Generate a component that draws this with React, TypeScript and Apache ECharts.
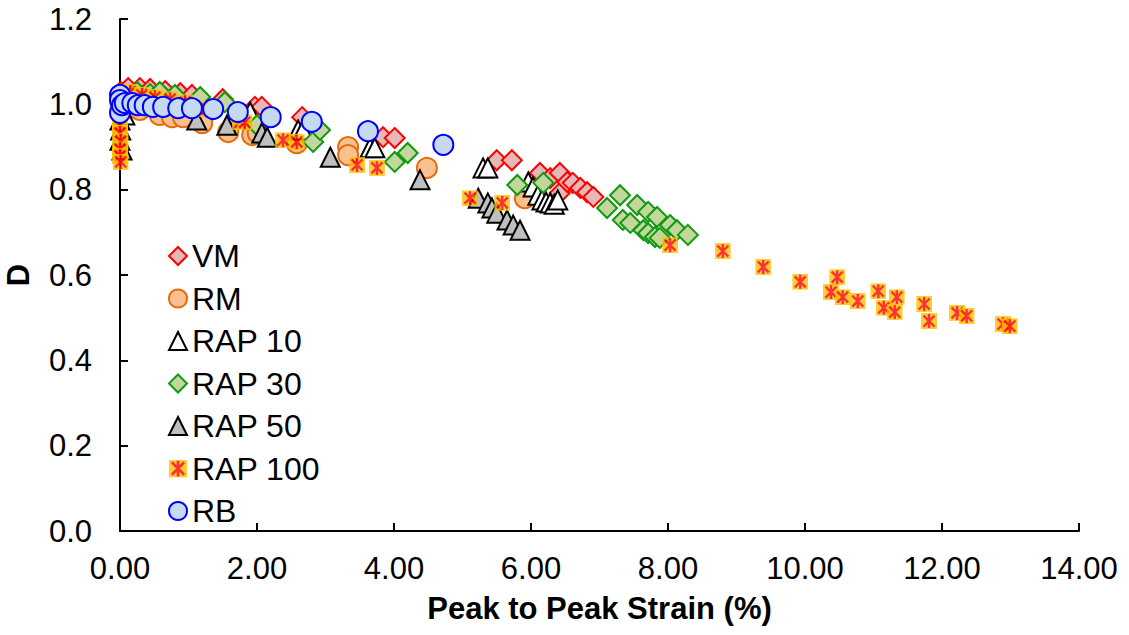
import React, { useEffect, useRef } from "react";
import * as echarts from "echarts";

const xTicks = ["0.00", "2.00", "4.00", "6.00", "8.00", "10.00", "12.00", "14.00"];
const yTicks = ["0.0", "0.2", "0.4", "0.6", "0.8", "1.0", "1.2"];

const VM: number[][] = [
  [0.01, 1.029], [0.12, 1.038], [0.29, 1.038], [0.44, 1.036], [0.66, 1.031], [0.88, 1.026],
  [1.05, 1.022], [1.5, 1.012], [1.97, 0.994], [2.07, 0.994], [2.66, 0.97], [3.84, 0.923],
  [4.01, 0.921], [5.5, 0.869], [5.72, 0.869], [6.13, 0.839], [6.28, 0.827], [6.42, 0.839],
  [6.42, 0.792], [6.53, 0.818], [6.61, 0.816], [6.72, 0.804], [6.82, 0.794], [6.91, 0.783],
];
const RM: number[][] = [
  [0.01, 0.994], [0.09, 1.0], [0.29, 0.987], [0.58, 0.975], [0.76, 0.97], [0.92, 0.97],
  [1.2, 0.956], [1.58, 0.935], [1.93, 0.928], [2.01, 0.933], [2.58, 0.909], [3.33, 0.9],
  [3.33, 0.881], [4.48, 0.851], [5.91, 0.78],
];
const RAP10: number[][] = [
  [0.0, 0.963], [0.01, 0.94], [0.07, 0.975], [1.9, 0.982], [2.6, 0.94], [2.67, 0.94],
  [3.65, 0.898], [3.72, 0.898], [5.3, 0.851], [5.37, 0.851], [5.96, 0.818], [6.03, 0.806],
  [6.1, 0.787], [6.16, 0.776], [6.22, 0.771], [6.28, 0.769], [6.34, 0.766], [6.39, 0.776],
];
const RAP30: number[][] = [
  [0.03, 1.01], [0.25, 1.029], [0.44, 1.024], [0.58, 1.029], [0.8, 1.022], [1.17, 1.017],
  [1.53, 1.005], [2.0, 0.951], [2.82, 0.912], [2.92, 0.94], [4.01, 0.865], [4.2, 0.886],
  [5.8, 0.811], [6.18, 0.816], [7.11, 0.757], [7.3, 0.787], [7.55, 0.764], [7.34, 0.729],
  [7.45, 0.722], [7.71, 0.748], [7.84, 0.736], [7.64, 0.705], [7.71, 0.698], [7.81, 0.689],
  [7.88, 0.687], [8.03, 0.717], [8.13, 0.705], [8.29, 0.694],
];
const RAP50: number[][] = [
  [0.0, 0.916], [0.03, 0.893], [1.12, 0.963], [1.56, 0.951], [2.07, 0.933], [2.15, 0.923],
  [3.07, 0.876], [4.38, 0.823], [5.23, 0.78], [5.37, 0.769], [5.43, 0.757], [5.5, 0.745],
  [5.65, 0.729], [5.74, 0.717], [5.84, 0.705],
];
const RAP100: number[][] = [
  [0.0, 0.968], [0.0, 0.951], [0.0, 0.933], [0.01, 0.914], [0.0, 0.895], [0.0, 0.879],
  [0.01, 0.865], [0.03, 1.024], [0.15, 1.029], [0.32, 1.022], [0.51, 1.017], [0.73, 1.012],
  [0.95, 1.005], [1.27, 0.989], [1.75, 0.958], [1.82, 0.958], [2.38, 0.916], [2.58, 0.912],
  [3.46, 0.858], [3.75, 0.851], [5.11, 0.78], [5.58, 0.769], [8.03, 0.67], [8.8, 0.656],
  [9.39, 0.619], [9.93, 0.584], [10.47, 0.595], [10.38, 0.56], [10.55, 0.548], [10.77, 0.539],
  [11.07, 0.562], [11.34, 0.548], [11.15, 0.523], [11.31, 0.513], [11.74, 0.532], [11.81, 0.492],
  [12.22, 0.511], [12.36, 0.504], [12.89, 0.485], [12.99, 0.48],
];
const RB: number[][] = [
  [0.0, 1.022], [0.0, 1.01], [0.0, 0.98], [0.03, 0.998], [0.07, 1.003], [0.18, 1.003],
  [0.26, 0.998], [0.36, 0.998], [0.48, 0.994], [0.63, 0.994], [0.85, 0.991], [1.05, 0.991],
  [1.36, 0.989], [1.72, 0.982], [2.2, 0.97], [2.8, 0.959], [3.62, 0.937], [4.72, 0.905],
];

const FONT = '"Liberation Sans", Arial, sans-serif';

const asteriskSvg =
  "<svg xmlns='http://www.w3.org/2000/svg' width='16' height='16' viewBox='0 0 16 16'>" +
  "<rect x='0' y='0' width='16' height='16' fill='#FFC000'/>" +
  "<path d='M8 1V15M2.5 2.5L13.5 13.5M13.5 2.5L2.5 13.5' stroke='#FF0000' stroke-width='2.4' fill='none'/>" +
  "</svg>";
const asteriskSymbol = "image://data:image/svg+xml;charset=utf-8," + encodeURIComponent(asteriskSvg);

export default function App() {
  const ref = useRef<HTMLDivElement>(null);
  useEffect(() => {
    if (!ref.current) return;
    const chart = echarts.init(ref.current, null, { renderer: "svg" });
    const mk = (name: string, data: number[][], symbol: string, size: number, fill: string, stroke: string, bw = 1.5) => ({
      name,
      type: "scatter",
      data,
      symbol,
      symbolSize: size,
      itemStyle: { color: fill, borderColor: stroke, borderWidth: bw, opacity: 1 },
      emphasis: { disabled: true },
    });
    chart.setOption({
      animation: false,
      backgroundColor: "#ffffff",
      textStyle: { fontFamily: FONT },
      grid: { left: 120, right: 50, top: 19, bottom: 104, containLabel: false, outerBoundsMode: "none" },
      legend: {
        orient: "vertical",
        left: 163,
        top: 235,
        itemGap: 10.5,
        itemWidth: 18,
        itemHeight: 18,
        textStyle: { fontSize: 32, color: "#000", fontFamily: FONT, lineHeight: 32 },
        data: ["VM", "RM", "RAP 10", "RAP 30", "RAP 50", "RAP 100", "RB"],
      },
      xAxis: {
        type: "value",
        min: 0,
        max: 14,
        interval: 2,
        name: "Peak to Peak Strain (%)",
        nameLocation: "middle",
        nameGap: 62,
        nameTextStyle: { fontSize: 31, fontWeight: "bold", color: "#000", fontFamily: FONT },
        axisLine: { show: true, lineStyle: { color: "#000", width: 2 } },
        axisTick: { show: true, inside: true, length: 8, lineStyle: { color: "#000", width: 2 } },
        axisLabel: {
          fontSize: 31,
          color: "#000",
          margin: 22,
          fontFamily: FONT,
          formatter: (v: number) => xTicks[Math.round(v / 2)] ?? v.toFixed(2),
        },
        splitLine: { show: false },
      },
      yAxis: {
        type: "value",
        min: 0,
        max: 1.2,
        interval: 0.2,
        name: "D",
        nameLocation: "middle",
        nameGap: 86,
        nameTextStyle: { fontSize: 31, fontWeight: "bold", color: "#000", fontFamily: FONT },
        axisLine: { show: true, lineStyle: { color: "#000", width: 2 } },
        axisTick: { show: true, inside: true, length: 8, lineStyle: { color: "#000", width: 2 } },
        axisLabel: {
          fontSize: 31,
          color: "#000",
          margin: 28,
          fontFamily: FONT,
          formatter: (v: number) => yTicks[Math.round(v / 0.2)] ?? v.toFixed(1),
        },
        splitLine: { show: false },
      },
      series: [
        mk("VM", VM, "diamond", 20, "#E6B9B8", "#FF0000", 2),
        mk("RM", RM, "circle", 20, "#FAC090", "#E46C0A", 2),
        mk("RAP 10", RAP10, "triangle", 19, "#FFFFFF", "#000000", 2),
        mk("RAP 30", RAP30, "diamond", 20, "#C3D69B", "#119911", 2),
        mk("RAP 50", RAP50, "triangle", 19, "#BFBFBF", "#000000", 2),
        {
          name: "RAP 100",
          type: "scatter",
          data: RAP100,
          symbol: asteriskSymbol,
          symbolSize: 16,
          itemStyle: { color: "#FFC000" },
          emphasis: { disabled: true },
        },
        mk("RB", RB, "circle", 20, "#C5D9F1", "#0000FF", 2),
      ],
    });
    return () => chart.dispose();
  }, []);
  return (
    <div
      ref={ref}
      style={{ position: "fixed", left: 0, top: 0, width: 1129, height: 635, background: "#fff" }}
    />
  );
}
